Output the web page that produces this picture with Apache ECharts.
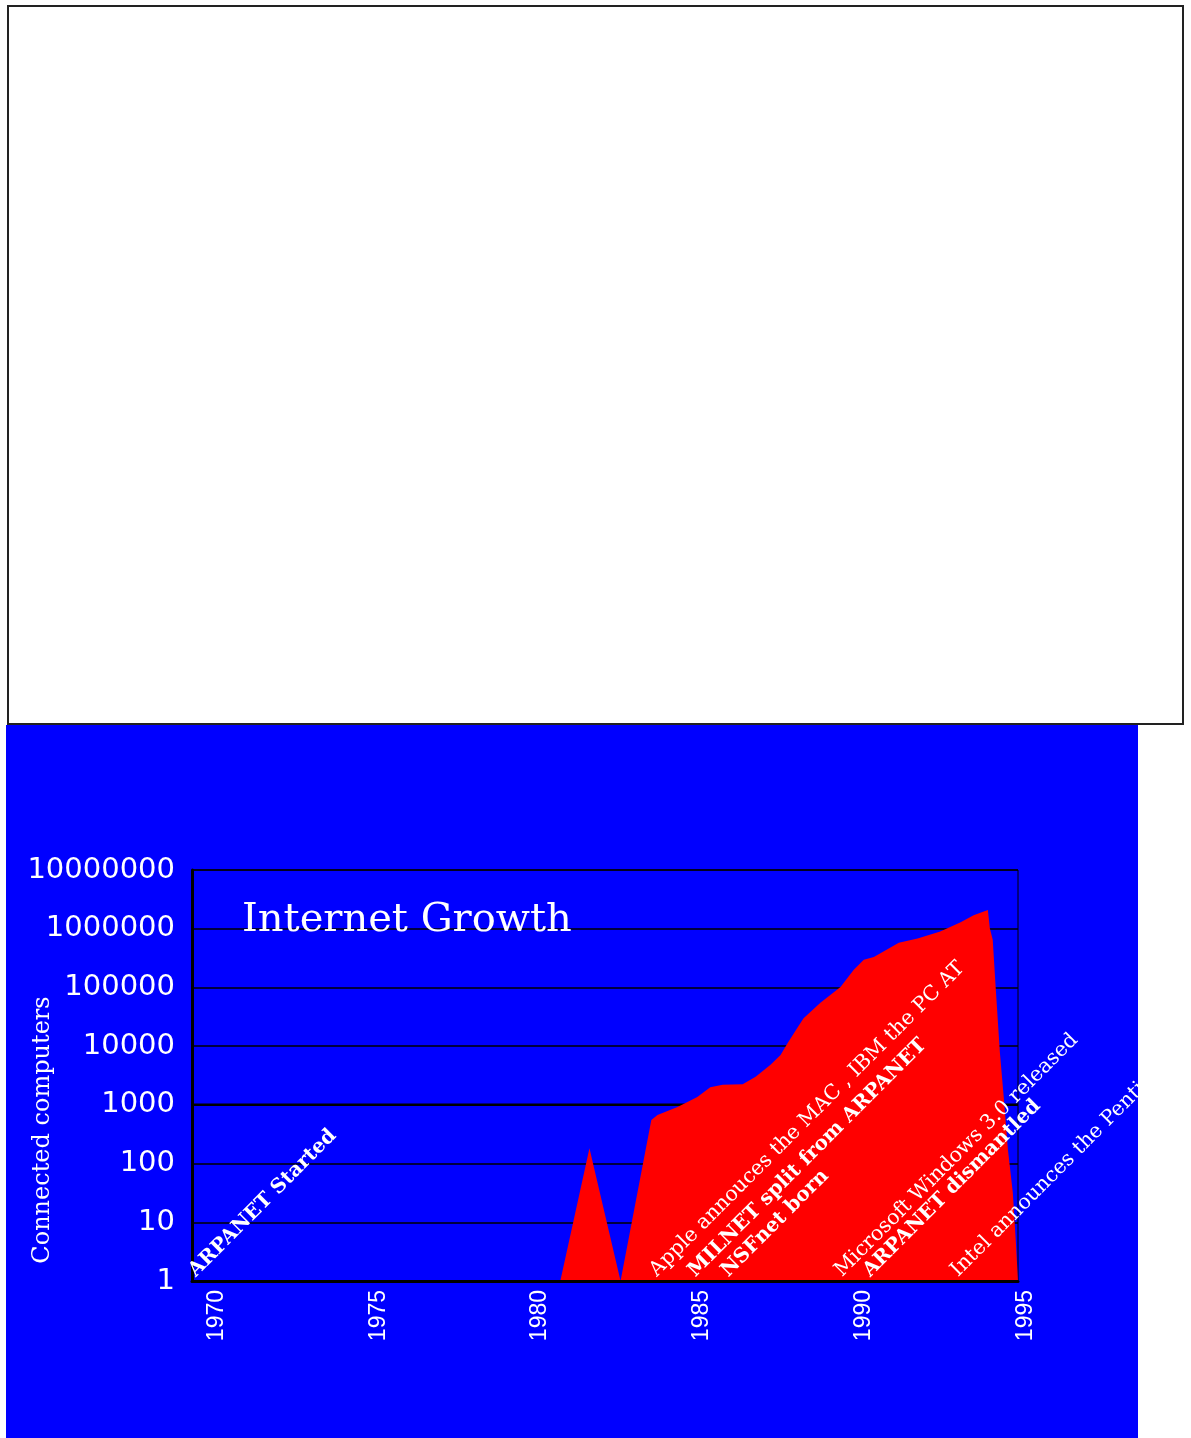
<!DOCTYPE html>
<html><head><meta charset="utf-8">
<script src="https://cdn.jsdelivr.net/npm/echarts@6/dist/echarts.min.js"></script>
<style>
html,body{margin:0;padding:0;background:#fff;width:1191px;height:1438px;overflow:hidden;position:relative}
#box{position:absolute;left:7px;top:5px;width:1173px;height:716px;border:2px solid #222;background:#fff}
#chart{position:absolute;left:6px;top:725px;width:1132px;height:713px;background:#0000ff}
</style></head><body>
<div id="box"></div>
<div id="chart"></div>
<script>
// --- data ---
const years = [1969.5, 1980.87, 1981.77, 1982.73, 1983.68, 1983.87, 1984.49, 1985.1, 1985.5, 1985.88,
  1986.5, 1986.9, 1987.36, 1987.67, 1987.89, 1988.2, 1988.38, 1988.9, 1989.52, 1989.93,
  1990.24, 1990.55, 1991.32, 1991.9, 1992.6, 1993.23, 1993.63, 1994.07, 1994.13, 1994.22,
  1994.31, 1994.44, 1994.56, 1994.69, 1994.84, 1994.93, 1995];
const hosts = [1, 1, 182, 1, 550, 670, 920, 1360, 2000, 2200,
  2250, 3000, 4800, 7100, 11300, 21000, 30000, 55000, 102000, 200000,
  295000, 330000, 575000, 680000, 900000, 1290000, 1700000, 2090000, 1020000, 650000,
  102000, 7900, 1350, 170, 32, 5, 1];
const xTickYears = [1970, 1975, 1980, 1985, 1990, 1995];
const yTickLabels = ['1', '10', '100', '1000', '10000', '100000', '1000000', '10000000'];
const eventYears = [1969.72, 1983.96, 1985.14, 1986.16, 1989.68, 1990.54, 1993.26];
const eventTexts = ['ARPANET Started', 'Apple annouces the MAC , IBM the PC AT', 'MILNET split from ARPANET',
  'NSFnet born', 'Microsoft Windows 3.0 released', 'ARPANET dismantled', 'Intel announces the Pentium'];
const eventBold = [true, false, true, true, false, true, false];

const chart = echarts.init(document.getElementById('chart'), null, {renderer: 'canvas'});
const areaData = years.map((y, i) => [y, hosts[i]]);
const eventData = eventYears.map((y, i) => ({
  value: [y, 1],
  label: {
    formatter: eventTexts[i],
    fontWeight: eventBold[i] ? 'bold' : 'normal',
    fontSize: eventBold[i] ? 20 : 20.5
  }
}));

chart.setOption({
  backgroundColor: '#0000ff',
  animation: false,
  title: {
    text: 'Internet Growth', left: 236, top: 176, padding: 0,
    textStyle: {color: '#fff', fontFamily: 'DejaVu Serif', fontSize: 40, fontWeight: 'normal'}
  },
  graphic: [{
    type: 'text', x: 37, y: 405, rotation: Math.PI / 2,
    style: {text: 'Connected computers', fill: '#fff', font: '24px "DejaVu Serif"', align: 'center', verticalAlign: 'middle'}
  }],
  grid: {left: 186, top: 145, width: 826, height: 411, show: true, borderColor: '#000', borderWidth: 1, backgroundColor: 'transparent'},
  xAxis: {
    type: 'value', min: 1969.5, max: 1995, z: 5,
    axisLine: {show: true, onZero: false, lineStyle: {color: '#000', width: 3}},
    axisTick: {show: false},
    splitLine: {show: false},
    axisLabel: {
      customValues: xTickYears, rotate: 90, margin: 9, color: '#fff',
      fontFamily: 'Liberation Sans', fontSize: 23, verticalAlign: 'top', lineHeight: 16,
      formatter: v => String(v)
    }
  },
  yAxis: {
    type: 'log', logBase: 10, min: 1, max: 10000000, splitNumber: 7,
    axisLine: {show: true, lineStyle: {color: '#000', width: 3}},
    axisTick: {show: false},
    splitLine: {show: true, lineStyle: {color: '#000', width: 1.5}},
    axisLabel: {
      color: '#fff', fontFamily: 'DejaVu Sans', fontSize: 29, margin: 17,
      formatter: v => yTickLabels[Math.round(Math.log10(v))]
    }
  },
  series: [
    {
      type: 'line', z: 1, silent: true, symbol: 'none',
      data: [[1969.5, 1000], [1995, 1000]],
      lineStyle: {color: '#000', width: 2.5}
    },
    {
      type: 'line', z: 2, silent: true, symbol: 'none', showSymbol: false,
      data: areaData,
      lineStyle: {width: 0},
      areaStyle: {color: '#ff0000', opacity: 1, origin: 'start'}
    },
    {
      type: 'scatter', z: 10, silent: true, clip: false, symbolSize: 0,
      itemStyle: {opacity: 1},
      data: eventData,
      label: {
        show: true, position: 'inside', rotate: 45, align: 'left', verticalAlign: 'bottom',
        color: '#ffffff', opacity: 1, fontFamily: 'DejaVu Serif', fontSize: 20
      }
    }
  ]
});
</script>
</body></html>
